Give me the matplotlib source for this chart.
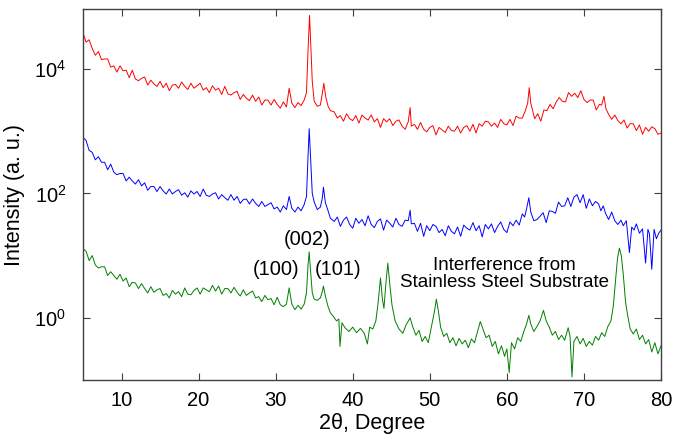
import numpy as np
import matplotlib
matplotlib.use('Agg')
import matplotlib.pyplot as plt
from matplotlib.ticker import FuncFormatter, NullLocator

plt.rcParams['font.family'] = ['Liberation Sans', 'DejaVu Sans']
plt.rcParams['mathtext.fontset'] = 'custom'
plt.rcParams['mathtext.rm'] = 'Liberation Sans'

# (2theta, log10 intensity)
red = [
    (5.0, 4.58), (5.4, 4.43), (5.8, 4.47), (6.2, 4.33), (6.6, 4.22), (7.0, 4.28),
    (7.4, 4.15), (7.8, 4.16), (8.2, 4.16), (8.6, 4.03), (9.0, 4.05), (9.4, 3.95),
    (9.8, 4.05), (10.2, 3.97), (10.6, 3.98), (11.0, 3.86), (11.4, 3.98), (11.8, 3.84),
    (12.2, 3.81), (12.6, 3.85), (13.0, 3.87), (13.4, 3.74), (13.8, 3.82), (14.2, 3.76),
    (14.6, 3.72), (15.0, 3.80), (15.4, 3.70), (15.8, 3.77), (16.2, 3.65), (16.6, 3.74),
    (17.0, 3.75), (17.4, 3.69), (17.8, 3.79), (18.2, 3.72), (18.6, 3.67), (19.0, 3.77),
    (19.4, 3.69), (19.8, 3.73), (20.2, 3.77), (20.6, 3.66), (21.0, 3.70), (21.4, 3.62),
    (21.8, 3.73), (22.2, 3.66), (22.6, 3.69), (23.0, 3.59), (23.4, 3.72), (23.8, 3.60),
    (24.2, 3.58), (24.6, 3.62), (25.0, 3.64), (25.4, 3.51), (25.8, 3.59), (26.2, 3.53),
    (26.6, 3.49), (27.0, 3.58), (27.4, 3.48), (27.8, 3.55), (28.2, 3.42), (28.6, 3.50),
    (29.0, 3.50), (29.4, 3.42), (29.8, 3.51), (30.2, 3.43), (30.6, 3.37), (31.0, 3.47),
    (31.4, 3.39), (31.75, 3.69), (32.1, 3.45), (32.5, 3.38), (32.9, 3.46), (33.3, 3.41),
    (33.7, 3.50), (34.0, 3.62), (34.2, 4.30), (34.4, 4.86), (34.55, 4.40), (34.75, 3.80),
    (35.0, 3.48), (35.4, 3.40), (35.8, 3.42), (36.05, 3.60), (36.25, 3.77), (36.5, 3.55),
    (36.8, 3.40), (37.1, 3.33), (37.6, 3.31), (38.0, 3.21), (38.4, 3.25), (38.8, 3.16),
    (39.2, 3.28), (39.6, 3.20), (40.0, 3.17), (40.4, 3.25), (40.8, 3.13), (41.2, 3.26),
    (41.6, 3.21), (42.0, 3.18), (42.4, 3.26), (42.8, 3.15), (43.2, 3.20), (43.6, 3.06),
    (44.0, 3.20), (44.4, 3.15), (44.8, 3.20), (45.2, 3.09), (45.6, 3.16), (46.0, 3.18),
    (46.4, 3.08), (46.8, 3.03), (47.2, 3.15), (47.45, 3.38), (47.6, 3.08), (48.0, 3.11),
    (48.4, 3.03), (48.8, 3.14), (49.2, 3.03), (49.6, 2.99), (50.0, 3.06), (50.4, 3.09),
    (50.8, 2.94), (51.2, 3.06), (51.6, 3.02), (52.0, 2.98), (52.4, 3.08), (52.8, 3.01),
    (53.2, 3.00), (53.6, 3.08), (54.0, 2.97), (54.4, 3.06), (54.8, 3.09), (55.2, 3.00),
    (55.6, 3.11), (56.0, 2.97), (56.4, 3.12), (56.8, 3.08), (57.2, 3.16), (57.6, 3.15),
    (58.0, 3.08), (58.4, 3.13), (58.8, 3.06), (59.2, 3.19), (59.6, 3.12), (60.0, 3.10),
    (60.4, 3.19), (60.8, 3.09), (61.2, 3.24), (61.6, 3.21), (62.0, 3.21), (62.4, 3.33),
    (62.7, 3.45), (62.9, 3.70), (63.1, 3.45), (63.6, 3.20), (64.0, 3.28), (64.4, 3.16),
    (64.8, 3.34), (65.2, 3.33), (65.6, 3.43), (66.0, 3.36), (66.4, 3.47), (66.8, 3.54),
    (67.2, 3.48), (67.6, 3.47), (68.0, 3.62), (68.4, 3.56), (68.8, 3.61), (69.2, 3.54),
    (69.6, 3.65), (70.0, 3.51), (70.4, 3.46), (70.8, 3.50), (71.2, 3.50), (71.6, 3.34),
    (72.0, 3.43), (72.3, 3.42), (72.6, 3.56), (72.85, 3.36), (73.2, 3.27), (73.6, 3.19),
    (74.0, 3.26), (74.4, 3.17), (74.8, 3.12), (75.2, 3.18), (75.6, 3.05), (76.0, 3.12),
    (76.4, 3.12), (76.8, 3.01), (77.2, 3.10), (77.6, 2.95), (78.0, 3.06), (78.4, 3.00),
    (78.8, 3.07), (79.2, 3.04), (79.6, 2.95), (80.0, 2.97),
]

blue = [
    (5.0, 2.90), (5.4, 2.85), (5.8, 2.69), (6.2, 2.66), (6.6, 2.54), (7.0, 2.59),
    (7.4, 2.50), (7.8, 2.50), (8.2, 2.38), (8.6, 2.47), (9.0, 2.34), (9.4, 2.30),
    (9.8, 2.32), (10.2, 2.32), (10.6, 2.20), (11.0, 2.26), (11.4, 2.20), (11.8, 2.15),
    (12.2, 2.22), (12.6, 2.12), (13.0, 2.17), (13.4, 2.05), (13.8, 2.11), (14.2, 2.11),
    (14.6, 2.03), (15.0, 2.11), (15.4, 2.04), (15.8, 1.99), (16.2, 2.07), (16.6, 1.99),
    (17.0, 2.03), (17.4, 2.06), (17.8, 1.97), (18.2, 2.01), (18.6, 1.94), (19.0, 2.04),
    (19.4, 1.99), (19.8, 2.03), (20.2, 1.95), (20.6, 2.07), (21.0, 1.97), (21.4, 1.95),
    (21.8, 1.99), (22.2, 2.01), (22.6, 1.91), (23.0, 1.98), (23.4, 1.93), (23.8, 1.89),
    (24.2, 1.98), (24.6, 1.89), (25.0, 1.95), (25.4, 1.84), (25.8, 1.90), (26.2, 1.91),
    (26.6, 1.83), (27.0, 1.91), (27.4, 1.84), (27.8, 1.79), (28.2, 1.87), (28.6, 1.79),
    (29.0, 1.82), (29.4, 1.85), (29.8, 1.75), (30.2, 1.78), (30.6, 1.70), (31.0, 1.80),
    (31.4, 1.74), (31.75, 1.95), (32.1, 1.76), (32.5, 1.70), (32.9, 1.78), (33.3, 1.72),
    (33.7, 1.82), (34.0, 1.95), (34.2, 2.60), (34.35, 3.04), (34.5, 2.65), (34.75, 2.00),
    (35.0, 1.86), (35.4, 1.74), (35.8, 1.78), (36.05, 1.92), (36.2, 2.10), (36.45, 1.85),
    (36.8, 1.72), (37.1, 1.60), (37.6, 1.55), (38.0, 1.62), (38.4, 1.47), (38.8, 1.57),
    (39.2, 1.62), (39.6, 1.50), (40.0, 1.44), (40.4, 1.60), (40.8, 1.52), (41.2, 1.58),
    (41.6, 1.48), (42.0, 1.64), (42.4, 1.50), (42.8, 1.45), (43.2, 1.55), (43.6, 1.59),
    (44.0, 1.41), (44.4, 1.57), (44.8, 1.52), (45.2, 1.46), (45.6, 1.60), (46.0, 1.50),
    (46.4, 1.47), (46.8, 1.57), (47.2, 1.56), (47.45, 1.73), (47.6, 1.51), (48.0, 1.52),
    (48.4, 1.39), (48.8, 1.52), (49.2, 1.31), (49.6, 1.48), (50.0, 1.40), (50.4, 1.50),
    (50.8, 1.47), (51.2, 1.37), (51.6, 1.42), (52.0, 1.32), (52.4, 1.48), (52.8, 1.39),
    (53.2, 1.35), (53.6, 1.46), (54.0, 1.31), (54.4, 1.49), (54.8, 1.44), (55.2, 1.41),
    (55.6, 1.53), (56.0, 1.40), (56.4, 1.48), (56.8, 1.30), (57.2, 1.50), (57.6, 1.43),
    (58.0, 1.51), (58.4, 1.37), (58.8, 1.47), (59.2, 1.54), (59.6, 1.42), (60.0, 1.37),
    (60.4, 1.54), (60.8, 1.48), (61.2, 1.57), (61.6, 1.49), (62.0, 1.67), (62.3, 1.62),
    (62.55, 1.75), (62.85, 1.93), (63.1, 1.70), (63.5, 1.56), (63.9, 1.58), (64.3, 1.63),
    (64.7, 1.69), (65.1, 1.53), (65.5, 1.72), (65.9, 1.71), (66.3, 1.68), (66.7, 1.86),
    (67.1, 1.79), (67.5, 1.80), (67.9, 1.93), (68.3, 1.79), (68.7, 1.94), (69.1, 1.98),
    (69.5, 1.85), (69.9, 1.98), (70.3, 1.76), (70.7, 1.91), (71.1, 1.80), (71.5, 1.87),
    (71.9, 1.83), (72.2, 1.72), (72.5, 1.80), (72.8, 1.68), (73.2, 1.58), (73.6, 1.70),
    (74.0, 1.56), (74.4, 1.50), (74.8, 1.57), (75.1, 1.48), (75.5, 1.56), (75.9, 1.05),
    (76.2, 1.46), (76.5, 1.41), (76.8, 1.51), (77.2, 1.36), (77.6, 1.43), (78.0, 0.88),
    (78.3, 1.42), (78.5, 1.35), (78.8, 0.78), (79.1, 1.42), (79.4, 1.27), (79.7, 1.36),
    (80.0, 1.41),
]

green = [
    (5.0, 1.11), (5.4, 1.07), (5.8, 0.92), (6.2, 1.00), (6.6, 0.85), (7.0, 0.80),
    (7.4, 0.82), (7.8, 0.82), (8.2, 0.68), (8.6, 0.74), (9.0, 0.68), (9.4, 0.62),
    (9.8, 0.70), (10.2, 0.59), (10.6, 0.64), (11.0, 0.50), (11.4, 0.57), (11.8, 0.56),
    (12.2, 0.47), (12.6, 0.55), (13.0, 0.47), (13.4, 0.40), (13.8, 0.50), (14.2, 0.41),
    (14.6, 0.45), (15.0, 0.47), (15.4, 0.36), (15.8, 0.39), (16.2, 0.32), (16.6, 0.44),
    (17.0, 0.38), (17.4, 0.42), (17.8, 0.34), (18.2, 0.48), (18.6, 0.38), (19.0, 0.37),
    (19.4, 0.44), (19.8, 0.48), (20.2, 0.38), (20.6, 0.48), (21.0, 0.45), (21.4, 0.42),
    (21.8, 0.52), (22.2, 0.43), (22.6, 0.51), (23.0, 0.38), (23.4, 0.47), (23.8, 0.47),
    (24.2, 0.40), (24.6, 0.49), (25.0, 0.41), (25.4, 0.35), (25.8, 0.45), (26.2, 0.36),
    (26.6, 0.40), (27.0, 0.43), (27.4, 0.32), (27.8, 0.34), (28.2, 0.26), (28.6, 0.36),
    (29.0, 0.29), (29.4, 0.31), (29.8, 0.21), (30.2, 0.33), (30.6, 0.21), (31.0, 0.18),
    (31.4, 0.22), (31.75, 0.48), (32.1, 0.22), (32.5, 0.13), (32.9, 0.20), (33.3, 0.14),
    (33.7, 0.22), (34.0, 0.40), (34.2, 0.85), (34.35, 1.06), (34.5, 0.80), (34.75, 0.40),
    (35.0, 0.30), (35.4, 0.28), (35.8, 0.32), (36.05, 0.42), (36.2, 0.51), (36.45, 0.35),
    (36.8, 0.18), (37.1, 0.08), (37.5, 0.02), (37.9, -0.05), (38.2, -0.02), (38.35, -0.46),
    (38.6, -0.08), (39.0, -0.16), (39.5, -0.22), (40.0, -0.15), (40.5, -0.24), (41.0, -0.17),
    (41.5, -0.25), (41.9, -0.42), (42.2, -0.15), (42.6, -0.18), (43.0, -0.05), (43.3, 0.25),
    (43.6, 0.64), (43.85, 0.30), (44.05, 0.15), (44.3, 0.55), (44.55, 0.88), (44.8, 0.55),
    (45.1, 0.20), (45.5, -0.05), (46.0, -0.18), (46.5, -0.25), (46.9, -0.12), (47.45, 0.00),
    (47.8, -0.15), (48.2, -0.28), (48.6, -0.20), (49.0, -0.38), (49.4, -0.30), (49.8, -0.40),
    (50.2, -0.15), (50.6, 0.10), (50.85, 0.30), (51.1, 0.12), (51.4, -0.15), (51.8, -0.30),
    (52.2, -0.25), (52.6, -0.40), (53.0, -0.32), (53.4, -0.45), (53.8, -0.33), (54.2, -0.42),
    (54.6, -0.36), (55.0, -0.48), (55.4, -0.34), (55.8, -0.40), (56.2, -0.22), (56.55, -0.06),
    (56.9, -0.18), (57.3, -0.32), (57.7, -0.28), (58.1, -0.46), (58.5, -0.38), (58.9, -0.58),
    (59.3, -0.45), (59.7, -0.62), (60.0, -0.50), (60.3, -0.88), (60.6, -0.40), (61.0, -0.50),
    (61.4, -0.32), (61.8, -0.38), (62.2, -0.22), (62.55, -0.10), (62.85, 0.04), (63.1, -0.10),
    (63.5, -0.22), (63.9, -0.14), (64.3, -0.05), (64.75, 0.12), (65.1, -0.05), (65.5, -0.15),
    (65.9, -0.28), (66.3, -0.22), (66.7, -0.35), (67.1, -0.28), (67.5, -0.36), (67.95, -0.16),
    (68.2, -0.30), (68.45, -0.95), (68.7, -0.38), (69.1, -0.30), (69.5, -0.42), (69.9, -0.33),
    (70.3, -0.46), (70.7, -0.38), (71.1, -0.44), (71.5, -0.30), (71.9, -0.36), (72.3, -0.24),
    (72.7, -0.30), (73.1, -0.14), (73.5, -0.05), (73.8, 0.18), (74.1, 0.60), (74.35, 0.95),
    (74.6, 1.12), (74.85, 1.00), (75.1, 0.70), (75.4, 0.25), (75.7, 0.02), (76.0, -0.18),
    (76.4, -0.26), (76.8, -0.18), (77.2, -0.35), (77.6, -0.28), (78.0, -0.42), (78.4, -0.35),
    (78.8, -0.55), (79.2, -0.40), (79.6, -0.58), (80.0, -0.45),
]

traces = [(red, '#ff0000'), (blue, '#0000ff'), (green, '#007f00')]

fig = plt.figure(figsize=(6.73, 4.37), dpi=100)
ax = fig.add_axes([0.1233, 0.1304, 0.8589, 0.849])

for data, col in traces:
    tt, li = np.array(data).T
    ax.plot(tt, 10.0 ** li, color=col, lw=0.7)

ax.set_yscale('log')
ax.set_xlim(5, 80)
ax.set_ylim(0.1, 9.2e4)
ax.set_xticks([10, 20, 30, 40, 50, 60, 70, 80])
ax.set_yticks([1, 1e2, 1e4])
ax.yaxis.set_minor_locator(NullLocator())
ax.yaxis.set_major_formatter(FuncFormatter(lambda v, p: r'$\mathrm{10^{%d}}$' % round(np.log10(v))))

for s in ax.spines.values():
    s.set_color('#404040')
    s.set_linewidth(1.0)
ax.tick_params(which='both', direction='in', top=True, right=True, color='#404040',
               length=5, labelsize=14.5)
ax.tick_params(axis='x', pad=8)
ax.tick_params(axis='y', pad=12)

ax.set_xlabel('2θ, Degree', fontsize=15.5, labelpad=2)
ax.set_ylabel('Intensity (a. u.)', fontsize=15.5, labelpad=7)

ax.text(34.1, 18, '(002)', fontsize=14.5, ha='center', va='center')
ax.text(30.1, 5.9, '(100)', fontsize=14.5, ha='center', va='center')
ax.text(38.05, 5.9, '(101)', fontsize=14.5, ha='center', va='center')
ax.text(59.7, 5.0, 'Interference from\nStainless Steel Substrate', fontsize=13.5,
        ha='center', va='center', linespacing=1.0)

fig.savefig('out.png', dpi=100)
